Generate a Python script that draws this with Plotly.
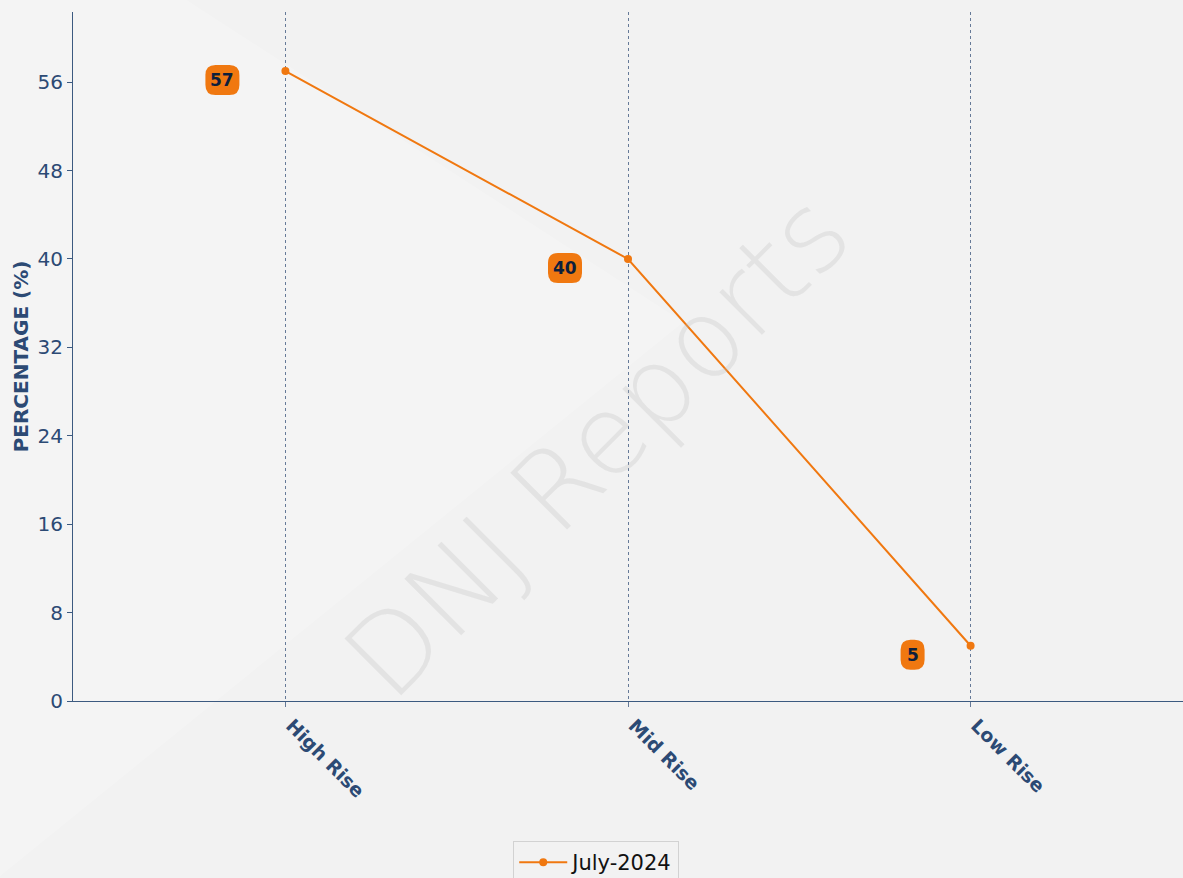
import plotly.graph_objects as go

categories = ["High Rise", "Mid Rise", "Low Rise"]
values = [57, 40, 5]
series_name = "July-2024"
y_ticks = [0, 8, 16, 24, 32, 40, 48, 56]

ORANGE = "#f07810"
NAVY = "#2c4a74"

fig = go.Figure()
fig.add_trace(go.Scatter(
    x=categories, y=values, mode="lines+markers", name=series_name,
    line=dict(color=ORANGE, width=2),
    marker=dict(color=ORANGE, size=8),
))

shapes = []
annotations = []
for i, (c, v) in enumerate(zip(categories, values)):
    txt = str(v)
    w = 10 * len(txt) + 14
    h = 30
    r = 10
    x1 = -46
    x0 = x1 - w
    yc = -9
    y0 = yc - h / 2
    y1 = yc + h / 2
    path = (f"M {x0 + r} {y0} L {x1 - r} {y0} Q {x1} {y0} {x1} {y0 + r} "
            f"L {x1} {y1 - r} Q {x1} {y1} {x1 - r} {y1} L {x0 + r} {y1} "
            f"Q {x0} {y1} {x0} {y1 - r} L {x0} {y0 + r} Q {x0} {y0} {x0 + r} {y0} Z")
    shapes.append(dict(
        type="path", xref="x", yref="y", xsizemode="pixel", ysizemode="pixel",
        xanchor=i, yanchor=v, path=path, fillcolor=ORANGE, line=dict(width=0),
        layer="above",
    ))
    annotations.append(dict(
        x=c, y=v, xref="x", yref="y", text=f"<b>{txt}</b>", showarrow=False,
        xanchor="center", yanchor="middle", xshift=x1 - w / 2, yshift=yc,
        font=dict(family="DejaVu Sans", size=17, color="#0d1f3c"),
    ))

# watermark
annotations.append(dict(
    x=0.472, y=0.37, xref="paper", yref="paper", text="DNJ Reports",
    showarrow=False, textangle=-45,
    font=dict(family="DejaVu Sans ExtraLight, DejaVu Sans", size=110,
              color="rgba(185,185,185,0.25)", weight=200),
))

# subtle lighter region on the left
bg_shapes = [
    dict(type="path", xref="paper", yref="paper", layer="below",
         path="M -0.07 -0.26 L 0.55 0.55 L 0.1 1.02 L -0.07 1.02 Z",
         fillcolor="rgba(255,255,255,0.18)", line=dict(width=0)),
]

fig.update_layout(
    width=1183, height=878,
    margin=dict(l=73, r=0, t=12, b=177),
    paper_bgcolor="#f2f2f2", plot_bgcolor="rgba(0,0,0,0)",
    font=dict(family="DejaVu Sans", color=NAVY),
    showlegend=True,
    legend=dict(
        orientation="h", xref="container", yref="container",
        x=0.504, y=1 - 841 / 878, xanchor="center", yanchor="top",
        bgcolor="#f2f2f2", bordercolor="#d2d2d2", borderwidth=1,
        itemwidth=48,
        font=dict(family="DejaVu Sans", size=21, color="#111111"),
    ),
    shapes=bg_shapes + shapes,
    annotations=annotations,
    xaxis=dict(
        range=[-0.62, 2.62], showgrid=True, gridcolor="#667a98", gridwidth=1,
        griddash="3px,3px", showline=True, linecolor="#3c5a80", linewidth=1,
        ticks="outside", ticklen=5, tickcolor="#667a98", tickangle=45,
        tickfont=dict(family="DejaVu Sans", size=19, color=NAVY, weight=700),
        ticklabelshift=6,
        zeroline=False,
    ),
    yaxis=dict(
        range=[0, 62.35], tickvals=y_ticks, showgrid=False, zeroline=False,
        showline=True, linecolor="#3c5a80", linewidth=1,
        ticks="outside", ticklen=5, tickcolor="#3c5a80",
        tickfont=dict(family="DejaVu Sans", size=20, color=NAVY),
        title=dict(text="<b>PERCENTAGE (%)</b>", standoff=3,
                   font=dict(family="DejaVu Sans", size=20, color=NAVY)),
    ),
)

fig.write_html(
    "out.html",
    config={"displayModeBar": False},
    post_script="document.body.style.margin='0';document.body.style.overflow='hidden';",
)
